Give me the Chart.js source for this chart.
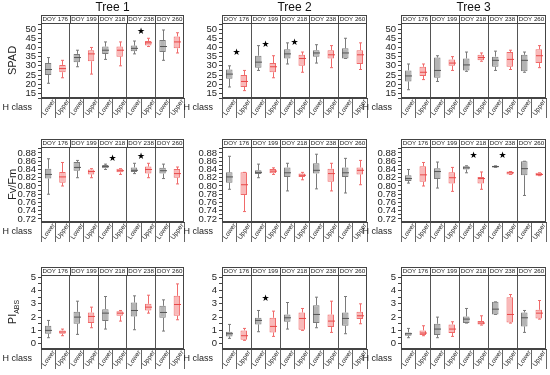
<!DOCTYPE html>
<html>
<head>
<meta charset="utf-8">
<script src="https://cdn.jsdelivr.net/npm/chart.js@4"></script>
<style>
html, body { margin: 0; padding: 0; background: #fff; }
#wrap { position: relative; width: 550px; height: 375px; overflow: hidden; }
#wrap canvas { position: absolute; left: 0; top: 0; }
</style>
</head>
<body>
<div id="wrap"></div>
<script>
const trees = ['Tree 1', 'Tree 2', 'Tree 3']
const doys = ['DOY 176', 'DOY 199', 'DOY 218', 'DOY 238', 'DOY 260']
const hClasses = ['Lower', 'Upper']

// each box: [min, q1, median, q3, max], order Lower/Upper per DOY
const spadT1 = [
    [20.5, 25, 28, 31.5, 34.5], [23.5, 26.5, 28.5, 30.5, 33],
    [29.5, 32, 34.5, 36.5, 38.5], [25.5, 32.5, 36.5, 38.5, 40],
    [33.5, 36.5, 38.5, 40.5, 43], [30, 35, 38.5, 40.5, 43],
    [36.5, 38, 39.5, 41, 43.5], [40.5, 41, 42.5, 43.5, 45],
    [33, 37.5, 40.5, 44, 49.5], [37, 39.5, 43, 46, 48],
]
const spadT2 = [
    [18.5, 23, 25.5, 28, 30], [16.5, 18.5, 21.5, 25, 27.5],
    [27.5, 29, 32, 35.5, 41], [23.5, 26.5, 29.5, 31.5, 35.5],
    [31, 34, 36.5, 39, 42.5], [26.5, 30, 34, 36, 37.5],
    [31.5, 35, 37, 38.5, 41.5], [29, 34, 36, 38.5, 41],
    [34, 34, 37, 39.5, 45], [28, 31, 36, 38.5, 42.5],
]
const spadT3 = [
    [17, 21.5, 24.5, 27.5, 31], [22.5, 24.5, 26.5, 29.5, 31],
    [21.5, 23.5, 27.5, 34.5, 35.5], [27.5, 30, 31.5, 33.5, 35],
    [27, 27.5, 30.5, 34, 37.5], [32.5, 33, 34.5, 36, 37],
    [27.5, 29.5, 33, 35, 38], [28, 29.5, 33.5, 37.5, 38.5],
    [26.5, 27, 33, 36, 37.5], [29, 31.5, 35.5, 39, 41],
]
const fvT1 = [
    [0.78, 0.818, 0.828, 0.842, 0.866], [0.800, 0.808, 0.822, 0.834, 0.857],
    [0.820, 0.837, 0.845, 0.858, 0.862], [0.820, 0.828, 0.835, 0.840, 0.842],
    [0.840, 0.843, 0.847, 0.851, 0.853], [0.828, 0.833, 0.837, 0.842, 0.842],
    [0.830, 0.834, 0.838, 0.845, 0.855], [0.820, 0.830, 0.840, 0.847, 0.855],
    [0.818, 0.830, 0.837, 0.844, 0.853], [0.805, 0.820, 0.830, 0.841, 0.846],
]
const fvT2 = [
    [0.792, 0.808, 0.822, 0.833, 0.872], [0.738, 0.778, 0.803, 0.833, 0.833],
    [0.820, 0.829, 0.833, 0.838, 0.853], [0.828, 0.831, 0.836, 0.841, 0.844],
    [0.788, 0.822, 0.832, 0.845, 0.855], [0.815, 0.822, 0.826, 0.830, 0.833],
    [0.793, 0.830, 0.838, 0.855, 0.877], [0.788, 0.810, 0.830, 0.842, 0.855],
    [0.783, 0.822, 0.832, 0.845, 0.867], [0.803, 0.828, 0.838, 0.845, 0.862],
]
const fvT3 = [
    [0.807, 0.812, 0.818, 0.826, 0.840], [0.800, 0.810, 0.827, 0.848, 0.857],
    [0.795, 0.817, 0.835, 0.843, 0.858], [0.787, 0.806, 0.820, 0.833, 0.845],
    [0.832, 0.840, 0.844, 0.848, 0.849], [0.792, 0.806, 0.818, 0.822, 0.834],
    [0.845, 0.845, 0.847, 0.849, 0.849], [0.828, 0.828, 0.832, 0.835, 0.835],
    [0.777, 0.826, 0.842, 0.860, 0.860], [0.825, 0.825, 0.828, 0.832, 0.832],
]
const piT1 = [
    [0.45, 0.75, 1.0, 1.35, 1.75], [0.6, 0.75, 0.88, 1.0, 1.1],
    [0.7, 1.5, 2.0, 2.4, 3.2], [1.2, 1.55, 2.05, 2.35, 2.75],
    [1.1, 1.7, 2.3, 2.6, 3.55], [1.7, 2.1, 2.3, 2.45, 2.5],
    [1.05, 2.05, 2.5, 3.1, 3.6], [2.3, 2.5, 2.75, 3.0, 3.65],
    [0.95, 1.95, 2.35, 2.85, 3.3], [1.8, 2.1, 2.95, 3.6, 4.5],
]
const piT2 = [
    [0.4, 0.55, 0.75, 0.9, 1.45], [0.25, 0.3, 0.6, 1.0, 1.15],
    [0.9, 1.45, 1.75, 1.95, 2.5], [0.55, 0.85, 1.3, 1.95, 2.45],
    [1.1, 1.65, 1.95, 2.2, 3.1], [1.0, 1.05, 1.9, 2.35, 2.65],
    [1.2, 1.55, 2.2, 2.9, 3.5], [0.85, 1.25, 1.7, 2.2, 3.2],
    [0.75, 1.35, 1.9, 2.35, 3.55], [1.5, 1.85, 2.1, 2.4, 3.0],
]
const piT3 = [
    [0.45, 0.6, 0.75, 0.85, 1.15], [0.6, 0.65, 0.8, 1.0, 1.35],
    [0.45, 0.65, 1.1, 1.5, 2.0], [0.55, 0.8, 1.1, 1.45, 1.65],
    [1.55, 1.55, 1.85, 2.05, 2.65], [1.4, 1.45, 1.55, 1.7, 2.1],
    [2.2, 2.2, 2.6, 3.15, 3.15], [1.55, 1.6, 2.2, 3.5, 3.7],
    [0.85, 1.3, 1.95, 2.35, 2.5], [1.85, 1.9, 2.3, 2.55, 3.25],
]

// significance stars: [tree, DOY index, y value]
const spadStars = [[0, 3, 48.4], [1, 0, 37], [1, 1, 41.5], [1, 2, 42.7]]
const fvStars = [[0, 2, 0.866], [0, 3, 0.870], [2, 2, 0.8735], [2, 3, 0.874]]
const piStars = [[1, 1, 3.37]]

const spadTicks = [15, 20, 25, 30, 35, 40, 45, 50]
const fvTicks = [0.72, 0.74, 0.76, 0.78, 0.80, 0.82, 0.84, 0.86, 0.88]
const piTicks = [0, 1, 2, 3, 4, 5]

const rows = [
    {name: 'SPAD', boxes: [spadT1, spadT2, spadT3], stars: spadStars, ticks: spadTicks, min: 12.5, max: 53.3, digits: 0},
    {name: 'Fv/Fm', boxes: [fvT1, fvT2, fvT3], stars: fvStars, ticks: fvTicks, min: 0.7127, max: 0.8945, digits: 2},
    {name: 'PI', sub: 'ABS', boxes: [piT1, piT2, piT3], stars: piStars, ticks: piTicks, min: -0.4, max: 5.17, digits: 0},
]

const W = 550, H = 375
const colX = [[41, 184], [222, 367], [401, 546]]
const rowY = [[23, 98], [147, 222], [275, 349]]
const FONT = '"Liberation Sans", Arial, sans-serif'
const grayFill = '#b4b4b4', grayLine = '#7a7a7a'
const pinkFill = '#f9b9b9', pinkLine = '#f06a6a'

function makeDecor(r, c) {
    const row = rows[r]
    return {
        id: 'decor',
        afterDatasetsDraw(chart) {
            const ctx = chart.ctx
            const xs = chart.scales.x, ys = chart.scales.y
            const boxes = row.boxes[c]
            ctx.save()
            ctx.lineWidth = 1
            boxes.forEach((b, i) => {
                const x = Math.round(xs.getPixelForValue(i)) + 0.5
                const col = i % 2 ? pinkLine : grayLine
                const yMin = ys.getPixelForValue(b[0]), yQ1 = ys.getPixelForValue(b[1])
                const yMed = ys.getPixelForValue(b[2]), yQ3 = ys.getPixelForValue(b[3])
                const yMax = ys.getPixelForValue(b[4])
                ctx.strokeStyle = col
                ctx.beginPath()
                ctx.moveTo(x, yQ3); ctx.lineTo(x, yMax)
                ctx.moveTo(x, yQ1); ctx.lineTo(x, yMin)
                ctx.moveTo(x - 1.5, yMax); ctx.lineTo(x + 1.5, yMax)
                ctx.moveTo(x - 1.5, yMin); ctx.lineTo(x + 1.5, yMin)
                ctx.stroke()
                ctx.strokeStyle = i % 2 ? '#e84848' : '#555'
                ctx.beginPath()
                ctx.moveTo(x - 3.5, yMed); ctx.lineTo(x + 3.5, yMed)
                ctx.stroke()
            })
            ctx.fillStyle = '#000'
            ctx.font = '9px "DejaVu Sans"'
            ctx.textAlign = 'center'
            ctx.textBaseline = 'middle'
            row.stars.filter(s => s[0] === c).forEach(s => {
                const x = (xs.getPixelForValue(s[1] * 2) + xs.getPixelForValue(s[1] * 2 + 1)) / 2
                ctx.fillText('★', x, ys.getPixelForValue(s[2]))
            })
            ctx.restore()
        },
        afterDraw(chart) {
            const ctx = chart.ctx
            const a = chart.chartArea
            const xs = chart.scales.x
            ctx.save()
            ctx.strokeStyle = '#444'
            ctx.lineWidth = 1
            // frame top/right and DOY header strip
            ctx.strokeRect(Math.round(a.left) + 0.5, Math.round(a.top) - 7.5, Math.round(a.right - a.left) - 1, Math.round(a.bottom - a.top) + 7)
            ctx.beginPath()
            ctx.moveTo(a.left, Math.round(a.top) + 0.5); ctx.lineTo(a.right, Math.round(a.top) + 0.5)
            ctx.stroke()
            ctx.fillStyle = '#222'
            ctx.font = '6.2px ' + FONT
            ctx.textAlign = 'center'
            ctx.textBaseline = 'middle'
            doys.forEach((d, k) => {
                const x0 = (xs.getPixelForValue(k * 2) + xs.getPixelForValue(k * 2 - 1)) / 2
                const x1 = (xs.getPixelForValue(k * 2 + 1) + xs.getPixelForValue(k * 2 + 2)) / 2
                if (k > 0) {
                    ctx.beginPath()
                    ctx.moveTo(Math.round(x0) + 0.5, a.top - 8); ctx.lineTo(Math.round(x0) + 0.5, a.top)
                    ctx.stroke()
                }
                ctx.fillText(d, (x0 + x1) / 2, a.top - 3.5)
            })
            // rotated H class labels inside the category row
            ctx.font = '6.5px ' + FONT
            labels.forEach((l, i) => {
                ctx.save()
                ctx.translate(xs.getPixelForValue(i) + 0.5, a.bottom + 9.5)
                ctx.rotate(-55 * Math.PI / 180)
                ctx.fillText(l, 0, 0)
                ctx.restore()
            })
            // tree title on the first row
            if (r === 0) {
                ctx.fillStyle = '#111'
                ctx.font = '12px ' + FONT
                ctx.fillText(trees[c], (a.left + a.right) / 2, a.top - 15)
            }
            // H class label
            ctx.fillStyle = '#222'
            ctx.font = '9px ' + FONT
            ctx.textAlign = 'right'
            ctx.fillText('H class', a.left - 9, a.bottom + 10)
            // y title on the first column
            if (c === 0) {
                ctx.translate(13, (a.top + a.bottom) / 2)
                ctx.rotate(-Math.PI / 2)
                ctx.font = '11px ' + FONT
                ctx.textAlign = 'left'
                const w1 = ctx.measureText(row.name).width
                let w2 = 0
                if (row.sub) {
                    ctx.font = '7px ' + FONT
                    w2 = ctx.measureText(row.sub).width
                }
                ctx.font = '11px ' + FONT
                ctx.fillText(row.name, -(w1 + w2) / 2, 0)
                if (row.sub) {
                    ctx.font = '7px ' + FONT
                    ctx.fillText(row.sub, -(w1 + w2) / 2 + w1, 4)
                }
            }
            ctx.restore()
        }
    }
}

const wrap = document.getElementById('wrap')
const labels = []
doys.forEach(() => hClasses.forEach(h => labels.push(h)))

function makeChart(r, c) {
    const row = rows[r]
    const canvas = document.createElement('canvas')
    canvas.width = W
    canvas.height = H
    wrap.appendChild(canvas)
    const boxes = row.boxes[c]
    const step = row.ticks[1] - row.ticks[0]
    new Chart(canvas, {
        type: 'bar',
        data: {
            labels: labels,
            datasets: [{
                data: boxes.map(b => [b[1], b[3]]),
                backgroundColor: labels.map((l, i) => i % 2 ? pinkFill : grayFill),
                borderColor: labels.map((l, i) => i % 2 ? pinkLine : grayLine),
                borderWidth: 1,
                borderSkipped: false,
                categoryPercentage: 1,
                barPercentage: 0.45,
            }]
        },
        options: {
            responsive: false,
            animation: false,
            events: [],
            layout: {padding: {
                left: colX[c][0] - 30, right: W - colX[c][1],
                top: rowY[r][0], bottom: H - rowY[r][1] - 20,
            }},
            plugins: {legend: {display: false}, tooltip: {enabled: false}},
            scales: {
                x: {
                    afterFit: s => { s.height = 20 },
                    grid: {
                        offset: true,
                        color: ctx => (ctx.index % 2 === 0 && ctx.index > 0 && ctx.index < 10) ? '#555' : 'rgba(0,0,0,0)',
                        tickColor: '#666',
                        tickLength: 20,
                    },
                    border: {color: '#444'},
                    ticks: {display: false},
                },
                y: {
                    min: row.min,
                    max: row.max,
                    afterFit: s => { s.width = 30 },
                    afterBuildTicks: s => {
                        const vals = []
                        row.ticks.forEach(v => { vals.push(v); vals.push(v + step / 2) })
                        vals.push(row.ticks[0] - step / 2)
                        s.ticks = vals.filter(v => v >= row.min && v <= row.max).sort((p, q) => p - q).map(v => ({value: v}))
                    },
                    grid: {drawOnChartArea: false, tickLength: 3, tickColor: '#444'},
                    border: {color: '#444'},
                    ticks: {
                        autoSkip: false,
                        callback: v => row.ticks.some(m => Math.abs(m - v) < 1e-9) ? v.toFixed(row.digits) : '',
                        font: {size: 9.5, family: FONT}, color: '#222', padding: 2,
                    },
                },
            },
        },
        plugins: [makeDecor(r, c)],
    })
}

for (let r = 0; r < 3; r++) {
    for (let c = 0; c < 3; c++) makeChart(r, c)
}
</script>
</body>
</html>
